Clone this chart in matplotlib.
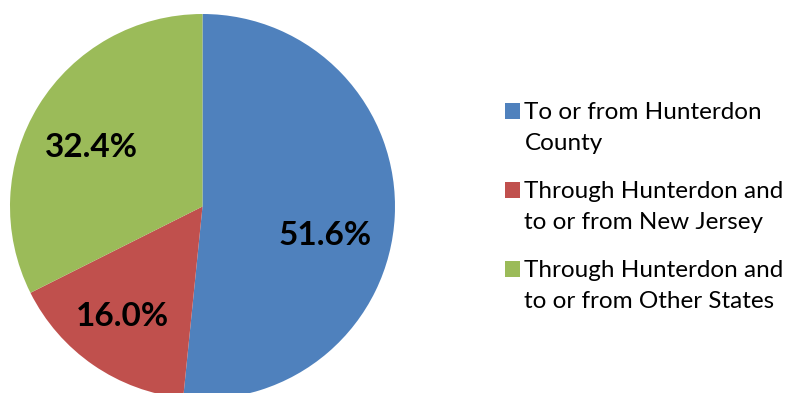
import matplotlib
matplotlib.use('Agg')
import matplotlib.pyplot as plt
from matplotlib.patches import Patch, Rectangle
from matplotlib.legend_handler import HandlerPatch

labels = ['To or from Hunterdon\nCounty',
          'Through Hunterdon and\nto or from New Jersey',
          'Through Hunterdon and\nto or from Other States']
shares = [51.6, 16.0, 32.4]
colors = ['#4F81BD', '#C0504D', '#9BBB59']

plt.rcParams['font.family'] = ['Lato', 'DejaVu Sans']

fig = plt.figure(figsize=(7.89, 3.93), dpi=100)
ax = fig.add_axes([0, 0, 1, 1])

wedges, texts, pcts = ax.pie(
    shares, colors=colors, startangle=90, counterclock=False,
    center=(202.5, 186.5), radius=192.5,
    autopct='%.1f%%', pctdistance=0.68,
    textprops=dict(fontsize=24, fontweight='bold', color='black'),
    wedgeprops=dict(linewidth=0),
)
ax.set_xlim(0, 789)
ax.set_ylim(0, 393)
ax.set_aspect('equal')
ax.axis('off')

# small label nudges so they sit where the old Excel chart had them
nudges = [(-8, -22), (-6, -2), (0, -10)]
for p, (dx, dy) in zip(pcts, nudges):
    x, y = p.get_position()
    p.set_position((x + dx, y + dy))


# legend square lines up with the first text line instead of the middle
def first_line_square(legend, orig_handle, xdescent, ydescent, width, height, fontsize):
    return Rectangle((-xdescent, -ydescent + 0.7 * fontsize), width, height)


handles = [Patch(facecolor=c, edgecolor='none') for c in colors]
leg = ax.legend(handles, labels, loc='upper left', bbox_to_anchor=(0.64, 0.74),
                frameon=False, fontsize=17.5, borderpad=0, borderaxespad=0,
                handlelength=0.6, handleheight=0.6, handletextpad=0.2,
                labelspacing=1.1,
                handler_map={Patch: HandlerPatch(patch_func=first_line_square)})
for t in leg.get_texts():
    t.set_linespacing(1.6)

fig.savefig('out.png', dpi=100)
